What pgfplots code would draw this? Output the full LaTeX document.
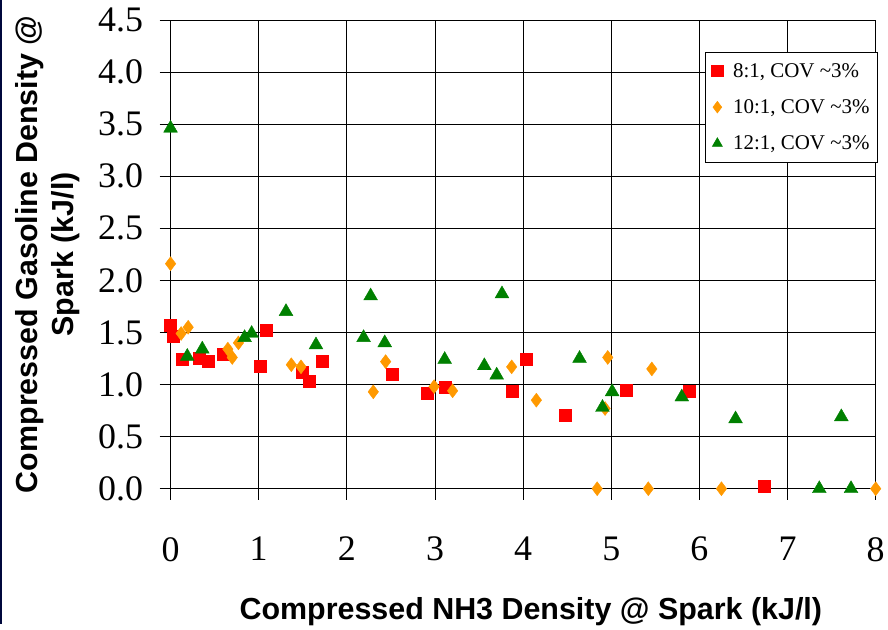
\documentclass[border=0pt]{standalone}
\usepackage{fontspec}
\setmainfont{Liberation Serif}
\setsansfont{Liberation Sans}
\usepackage{pgfplots}
\pgfplotsset{compat=1.18}
\definecolor{cRed}{RGB}{255,0,0}
\definecolor{cOrange}{RGB}{255,153,0}
\definecolor{cGreen}{RGB}{0,128,0}
\definecolor{cNavy}{RGB}{0,8,60}
\begin{document}
\begin{tikzpicture}
\begin{axis}[
    at={(0pt,0pt)}, anchor=origin,
    scale only axis,
    width=707pt, height=470pt,
    xmin=0, xmax=8, ymin=0, ymax=4.5,
    xtick={0,1,...,8},
    ytick={0,0.5,...,4.5},
    axis lines=left,
    axis line style={-, black, line width=0.8pt},
    grid=major,
    major grid style={black, line width=0.8pt},
    tick align=outside,
    major tick length=11pt,
    tick style={black, line width=0.8pt},
    /pgf/number format/assume math mode=true,
    ticklabel style={font=\fontsize{36}{40}\selectfont},
    yticklabel style={xshift=-13pt, /pgf/number format/.cd, fixed, fixed zerofill, precision=1},
    xticklabel style={yshift=-34pt},
    xlabel={Compressed NH3 Density @ Spark (kJ/l)},
    ylabel={Compressed Gasoline Density @\\Spark (kJ/l)},
    label style={font=\sffamily\bfseries\fontsize{30.5}{36}\selectfont},
    xlabel style={at={(rel axis cs:0.511,0)}, anchor=base, yshift=-131pt},
    ylabel style={at={(rel axis cs:-0.174,0.5)}, anchor=center, align=center},
    legend style={at={(rel axis cs:1.003,0.932)}, anchor=north east,
        draw=black, line width=0.6pt, fill=white,
        font=\fontsize{21}{25}\selectfont,
        row sep=17pt, inner xsep=6pt, inner ysep=9pt,
        /tikz/every odd column/.append style={column sep=8pt}},
    legend cell align=left,
    legend image code/.code={\draw[#1, mark size=5.8pt] plot coordinates {(0.2cm,0cm)};},
    clip=false,
]
% 8:1
\addplot[only marks, mark=square*, mark size=6pt, color=cRed] coordinates {
(0,1.57) (0.03,1.46) (0.13,1.24) (0.32,1.25) (0.43,1.22) (0.60,1.29)
(1.02,1.18) (1.08,1.52) (1.49,1.12) (1.57,1.03) (1.72,1.22) (2.52,1.10)
(2.91,0.92) (3.12,0.97) (3.88,0.94) (4.03,1.24) (4.48,0.71) (5.17,0.95)
(5.88,0.94) (6.74,0.02)};
\addlegendentry{8:1, COV \textasciitilde3\%}
% 10:1
\addplot[only marks, mark=diamond*, mark size=7pt, color=cOrange] coordinates {
(0,2.16) (0.12,1.49) (0.20,1.55) (0.65,1.34) (0.70,1.26) (0.77,1.40)
(1.37,1.19) (1.48,1.17) (2.30,0.93) (2.44,1.22) (2.99,0.98) (3.20,0.94)
(3.87,1.17) (4.15,0.85) (4.84,0) (4.93,0.77) (4.96,1.26) (5.42,0)
(5.46,1.15) (6.25,0) (8.0,0)};
\addlegendentry{10:1, COV \textasciitilde3\%}
% 12:1
\addplot[only marks, mark=triangle*, mark size=8pt, color=cGreen] coordinates {
(0,3.46) (0.19,1.27) (0.36,1.34) (0.84,1.45) (0.92,1.49) (1.31,1.70)
(1.65,1.38) (2.19,1.45) (2.27,1.85) (2.43,1.40) (3.11,1.24) (3.56,1.18)
(3.70,1.09) (3.76,1.87) (4.64,1.25) (4.90,0.78) (5.01,0.93) (5.80,0.88)
(6.41,0.67) (7.36,0) (7.61,0.69) (7.72,0)};
\addlegendentry{12:1, COV \textasciitilde3\%}
\end{axis}
\fill[cNavy] (-171pt,-136pt) rectangle (-169pt,490pt);
\useasboundingbox (-171pt,-136pt) rectangle (717pt,490pt);
\end{tikzpicture}
\end{document}
